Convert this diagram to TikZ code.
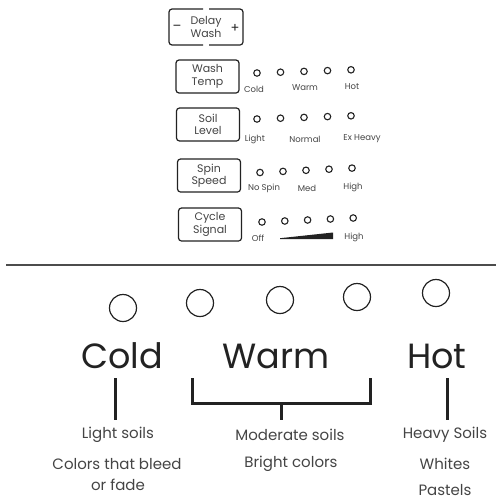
\documentclass[tikz,border=0pt]{standalone}
\usepackage{fontspec}
\setmainfont{Poppins}
\usetikzlibrary{positioning}
\definecolor{ink}{HTML}{222222}
\definecolor{soft}{HTML}{444444}
\newcommand{\fsz}[2]{\fontsize{#1}{#2}\selectfont}

\begin{document}
\begin{tikzpicture}[x=1pt,y=-1pt,
    btn/.style={draw=ink,rounded corners=3pt,line width=1.2pt,minimum width=63pt,
      minimum height=33pt,align=center,inner sep=0pt,text=soft,font=\fsz{11}{12.5}},
    led/.style={circle,draw=ink,line width=1.1pt,minimum size=6.5pt,inner sep=0pt},
    tiny/.style={text=soft,font=\fsz{8.5}{9},inner sep=0pt},
    bulb/.style={circle,draw=ink,line width=1.2pt,minimum size=27pt,inner sep=0pt},
    big/.style={text=ink,font=\fsz{35}{36},anchor=base,inner sep=0pt},
    note/.style={text=soft,font=\fsz{15}{16},inner sep=0pt},
    bar/.style={draw=ink,line width=3pt}]
  \useasboundingbox (0,0) rectangle (496,501);

  % delay wash, split button
  \node[btn,draw=none] (delay) at (206,27) {Delay\\Wash};
  \node[text=ink,font=\fsz{13}{13}] (minus) at (177,28) {--};
  \node[text=ink,font=\fsz{13}{13}] (plus) at (235,28) {+};
  \draw[ink,line width=1.2pt,rounded corners=3pt] (203,9) -- (169,9) -- (169,45) -- (203,45);
  \draw[ink,line width=1.2pt,rounded corners=3pt] (209,9) -- (243,9) -- (243,45) -- (209,45);

  % option buttons
  \node[btn] (temp) at (207.5,76.5) {Wash\\Temp};
  \node[btn] (soil) at (208,124.5) {Soil\\Level};
  \node[btn] (spin) at (209,175.5) {Spin\\Speed};
  \node[btn] (signal) at (210,224.5) {Cycle\\Signal};

  % indicator rows
  \foreach \i in {0,...,4}
    \node[led] (t\i) at (257+23.5*\i,73-0.8*\i) {};
  \foreach \i in {0,...,4}
    \node[led] (s\i) at (257+23.5*\i,119-0.8*\i) {};
  \foreach \i in {0,...,4}
    \node[led] (p\i) at (260+23*\i,172.5-1.1*\i) {};
  \foreach \i in {0,...,4}
    \node[led] (c\i) at (262+22.8*\i,222-1*\i) {};

  \node[tiny] (tcold) at (254,89) {Cold};
  \node[tiny] (twarm) at (305,88) {Warm};
  \node[tiny] (thot) at (352,87) {Hot};
  \node[tiny] (slight) at (255,139) {Light};
  \node[tiny] (snormal) at (305,139) {Normal};
  \node[tiny] (sheavy) at (362,139) {Ex Heavy};
  \node[tiny] (pno) at (264,188) {No Spin};
  \node[tiny] (pmed) at (307,188) {Med};
  \node[tiny] (phigh) at (353,187) {High};
  \node[tiny] (coff) at (258,238) {Off};
  \node[tiny] (chigh) at (354,237) {High};
  \fill[ink] (280,239) -- (333,239) -- (333,232.5) -- (280,238.2) -- cycle;

  % divider
  \draw[black!70,line width=2.2pt] (6,265) -- (496,265);

  % enlarged temperature lights
  \node[bulb] (b1) at (123,308) {};
  \node[bulb] (b2) at (200,303) {};
  \node[bulb] (b3) at (280,300) {};
  \node[bulb] (b4) at (357,297) {};
  \node[bulb] (b5) at (436,293) {};

  \node[big] (cold) at (122,368) {Cold};
  \node[big] (warm) at (276,368) {Warm};
  \node[big] (hot) at (437,368) {Hot};

  \coordinate (ctop) at (115,378);
  \coordinate (cend) at (115,420);
  \coordinate (wl) at (192,378);
  \coordinate (wr) at (370,378);
  \coordinate (wm) at (281,403);
  \coordinate (wend) at (281,420);
  \coordinate (htop) at (447,378);
  \coordinate (hend) at (447,420);
  \draw[bar] (ctop) -- (cend);
  \draw[bar] (wl) |- (wm) -| (wr);
  \draw[bar] (wm) -- (wend);
  \draw[bar] (htop) -- (hend);

  \node[note] (light) at (118,435) {Light soils};
  \node[note] (bleed) at (117,464) {Colors that bleed};
  \node[note] (fade) at (118,485) {or fade};
  \node[note] (moderate) at (290,435) {Moderate soils};
  \node[note] (bright) at (291,464) {Bright colors};
  \node[note] (heavy) at (445,435) {Heavy Soils};
  \node[note] (whites) at (445,464) {Whites};
  \node[note] (pastels) at (445,490) {Pastels};
\end{tikzpicture}
\end{document}
